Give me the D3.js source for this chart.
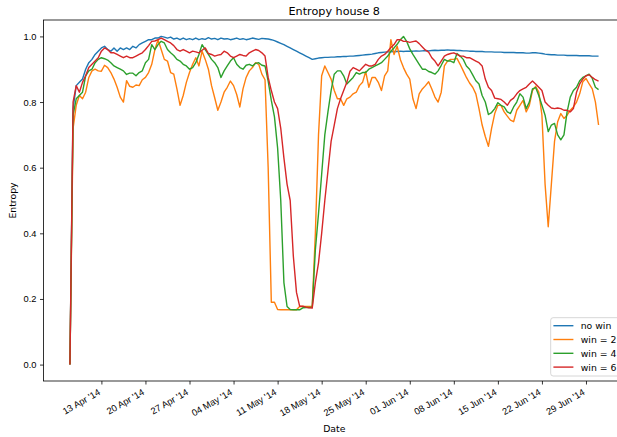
<!DOCTYPE html>
<html>
<head>
<meta charset="utf-8">
<script src="https://cdn.jsdelivr.net/npm/d3@7"></script>
<style>
  body { margin: 0; background: #fff; }
  svg { display: block; font-family: "DejaVu Sans", sans-serif; }
</style>
</head>
<body>
<div id="chart"></div>
<script>
// Half-daily samples starting 8 Apr 2014
const startDate = Date.UTC(2014, 3, 8);
const stepHours = 12;

const seriesNames = ["no win", "win = 2", "win = 4", "win = 6"];
const seriesColors = ["#1f77b4", "#ff7f0e", "#2ca02c", "#d62728"];

const noWin = [
  0, 0.78, 0.85, 0.86, 0.87, 0.90, 0.92, 0.93, 0.945, 0.955,
  0.965, 0.97, 0.96, 0.955, 0.965, 0.955, 0.965, 0.96, 0.965, 0.96,
  0.97, 0.965, 0.975, 0.98, 0.985, 0.99, 0.99, 0.995, 0.995, 1.0,
  0.998, 0.995, 0.998, 0.992, 0.995, 0.99, 0.995, 0.99, 0.993, 0.99,
  0.995, 0.99, 0.993, 0.991, 0.996, 0.992, 0.994, 0.99, 0.995, 0.992,
  0.993, 0.99, 0.992, 0.995, 0.991, 0.993, 0.99, 0.992, 0.995, 0.993,
  0.991, 0.994, 0.993, 0.992, 0.99, 0.987, 0.983, 0.979, 0.975, 0.97,
  0.965, 0.96, 0.955, 0.95, 0.945, 0.94, 0.935, 0.93, 0.932, 0.934,
  0.935, 0.936, 0.936, 0.937, 0.937, 0.938, 0.938, 0.939, 0.939, 0.94,
  0.94, 0.941, 0.942, 0.943, 0.944, 0.945, 0.946, 0.948, 0.95, 0.951,
  0.952, 0.953, 0.953, 0.954, 0.954, 0.955, 0.954, 0.955, 0.955, 0.955,
  0.956, 0.955, 0.956, 0.957, 0.956, 0.957, 0.958, 0.957, 0.958, 0.958,
  0.959, 0.958, 0.958, 0.957, 0.957, 0.956, 0.956, 0.955, 0.955, 0.954,
  0.954, 0.954, 0.953, 0.953, 0.953, 0.952, 0.952, 0.952, 0.951, 0.951,
  0.951, 0.951, 0.950, 0.950, 0.950, 0.949, 0.949, 0.950, 0.950, 0.949,
  0.948, 0.946, 0.945, 0.944, 0.944, 0.943, 0.943, 0.943, 0.942, 0.942,
  0.942, 0.942, 0.941, 0.941, 0.941, 0.941, 0.940, 0.940, 0.940,
];

const win2 = [
  0, 0.72, 0.79, 0.82, 0.81, 0.83, 0.875, 0.895, 0.90, 0.895,
  0.894, 0.912, 0.905, 0.89, 0.87, 0.845, 0.815, 0.80, 0.865, 0.848,
  0.845, 0.852, 0.85, 0.868, 0.875, 0.89, 0.915, 0.96, 0.99, 0.96,
  0.93, 0.925, 0.89, 0.885, 0.84, 0.79, 0.82, 0.86, 0.89, 0.915,
  0.935, 0.91, 0.955, 0.93, 0.90, 0.85, 0.813, 0.775, 0.80, 0.83,
  0.845, 0.864, 0.85, 0.823, 0.785, 0.84, 0.875, 0.895, 0.905, 0.92,
  0.915, 0.885, 0.868, 0.60, 0.19, 0.19, 0.168, 0.167, 0.167, 0.167,
  0.167, 0.167, 0.167, 0.177, 0.177, 0.177, 0.177, 0.177, 0.40, 0.70,
  0.88, 0.91, 0.89, 0.87, 0.835, 0.81, 0.81, 0.79, 0.81, 0.815,
  0.825, 0.83, 0.85, 0.86, 0.893, 0.845, 0.875, 0.875, 0.86, 0.835,
  0.88, 0.895, 0.99, 0.945, 0.97, 0.93, 0.905, 0.885, 0.87, 0.81,
  0.78, 0.825, 0.84, 0.85, 0.862, 0.84, 0.815, 0.80, 0.83, 0.91,
  0.925, 0.93, 0.93, 0.933, 0.915, 0.895, 0.875, 0.858, 0.845, 0.825,
  0.78, 0.73, 0.695, 0.665, 0.72, 0.765, 0.79, 0.79, 0.77, 0.757,
  0.745, 0.74, 0.775, 0.79, 0.805, 0.77, 0.79, 0.835, 0.848, 0.83,
  0.76, 0.55, 0.42, 0.55, 0.68, 0.74, 0.765, 0.75, 0.76, 0.775,
  0.785, 0.80, 0.825, 0.862, 0.872, 0.855, 0.84, 0.80, 0.73,
];

const win4 = [
  0, 0.76, 0.81, 0.82, 0.83, 0.88, 0.895, 0.90, 0.92, 0.93,
  0.935, 0.932, 0.928, 0.92, 0.91, 0.905, 0.90, 0.895, 0.884, 0.888,
  0.888, 0.88, 0.89, 0.895, 0.92, 0.93, 0.975, 0.96, 0.975, 0.985,
  0.98, 0.96, 0.95, 0.942, 0.93, 0.925, 0.915, 0.91, 0.90, 0.905,
  0.92, 0.945, 0.975, 0.96, 0.945, 0.93, 0.92, 0.905, 0.875, 0.895,
  0.91, 0.925, 0.935, 0.915, 0.905, 0.90, 0.912, 0.915, 0.91, 0.918,
  0.92, 0.912, 0.91, 0.864, 0.805, 0.755, 0.66, 0.50, 0.25, 0.177,
  0.168, 0.167, 0.167, 0.167, 0.173, 0.174, 0.174, 0.175, 0.35, 0.46,
  0.58, 0.70, 0.77, 0.835, 0.885, 0.895, 0.895, 0.88, 0.855, 0.865,
  0.875, 0.89, 0.885, 0.89, 0.89, 0.90, 0.905, 0.91, 0.915, 0.92,
  0.93, 0.94, 0.955, 0.965, 0.976, 0.99, 1.0, 0.985, 0.962, 0.945,
  0.93, 0.915, 0.90, 0.90, 0.893, 0.89, 0.885, 0.895, 0.912, 0.93,
  0.925, 0.925, 0.92, 0.948, 0.94, 0.93, 0.91, 0.90, 0.883, 0.865,
  0.855, 0.82, 0.80, 0.762, 0.768, 0.78, 0.798, 0.79, 0.785, 0.77,
  0.765, 0.785, 0.80, 0.825, 0.815, 0.78, 0.80, 0.84, 0.844, 0.82,
  0.79, 0.76, 0.71, 0.73, 0.735, 0.70, 0.685, 0.70, 0.77, 0.815,
  0.835, 0.845, 0.865, 0.875, 0.88, 0.885, 0.872, 0.845, 0.838,
];

const win6 = [
  0, 0.80, 0.85, 0.83, 0.86, 0.88, 0.905, 0.915, 0.925, 0.935,
  0.955, 0.965, 0.96, 0.95, 0.95, 0.945, 0.94, 0.935, 0.94, 0.935,
  0.935, 0.94, 0.945, 0.95, 0.96, 0.972, 0.985, 0.986, 0.99, 0.995,
  0.99, 0.985, 0.98, 0.972, 0.96, 0.955, 0.96, 0.955, 0.95, 0.955,
  0.953, 0.95, 0.958, 0.965, 0.948, 0.945, 0.94, 0.943, 0.945, 0.955,
  0.95, 0.94, 0.935, 0.94, 0.945, 0.942, 0.94, 0.95, 0.955, 0.96,
  0.957, 0.95, 0.94, 0.875, 0.835, 0.80, 0.78, 0.72, 0.63, 0.55,
  0.50, 0.33, 0.22, 0.178, 0.178, 0.175, 0.173, 0.172, 0.25, 0.31,
  0.40, 0.50, 0.59, 0.68, 0.73, 0.78, 0.81, 0.835, 0.86, 0.894,
  0.905, 0.90, 0.895, 0.905, 0.915, 0.91, 0.91, 0.915, 0.93, 0.94,
  0.945, 0.955, 0.966, 0.975, 0.99, 0.99, 0.985, 0.985, 0.982, 0.984,
  0.986, 0.978, 0.968, 0.958, 0.952, 0.935, 0.925, 0.91, 0.925, 0.94,
  0.945, 0.948, 0.95, 0.945, 0.94, 0.94, 0.935, 0.935, 0.93, 0.925,
  0.92, 0.91, 0.87, 0.845, 0.835, 0.812, 0.81, 0.808, 0.80, 0.79,
  0.805, 0.812, 0.825, 0.835, 0.84, 0.845, 0.855, 0.864, 0.855, 0.845,
  0.835, 0.80, 0.79, 0.782, 0.78, 0.782, 0.78, 0.775, 0.775, 0.77,
  0.78, 0.83, 0.855, 0.87, 0.88, 0.883, 0.875, 0.868, 0.864,
];

const xTickDates = [
  "2014-04-13", "2014-04-20", "2014-04-27", "2014-05-04", "2014-05-11", "2014-05-18",
  "2014-05-25", "2014-06-01", "2014-06-08", "2014-06-15", "2014-06-22", "2014-06-29",
];
const yTicks = [0, 0.2, 0.4, 0.6, 0.8, 1.0];

const width = 617;
const height = 437;
const margin = { top: 20, right: 625, bottom: 381, left: 43.5 };

const toDate = (i) => new Date(startDate + i * stepHours * 3600 * 1000);
const allSeries = [noWin, win2, win4, win6].map((vals, k) => ({
  name: seriesNames[k],
  color: seriesColors[k],
  points: vals.map((v, i) => ({ date: toDate(i), value: v })),
}));

// matplotlib style 5% padding around data
const [d0, d1] = d3.extent(allSeries[0].points, (d) => d.date);
const pad = (d1 - d0) * 0.05;
const xScale = d3
  .scaleUtc()
  .domain([new Date(+d0 - pad), new Date(+d1 + pad)])
  .range([margin.left, margin.right]);
const yScale = d3.scaleLinear().domain([-0.05, 1.05]).range([margin.bottom, margin.top]);

const svg = d3
  .select("#chart")
  .append("svg")
  .attr("width", width)
  .attr("height", height);

svg.append("rect").attr("width", width).attr("height", height).attr("fill", "#fff");

// Lines
const line = d3
  .line()
  .x((d) => xScale(d.date))
  .y((d) => yScale(d.value));

svg
  .append("g")
  .selectAll("path")
  .data(allSeries)
  .enter()
  .append("path")
  .attr("d", (d) => line(d.points))
  .attr("fill", "none")
  .attr("stroke", (d) => d.color)
  .attr("stroke-width", 1.4)
  .attr("stroke-linejoin", "round");

// Axes
const xAxis = svg
  .append("g")
  .attr("transform", `translate(0,${margin.bottom})`)
  .call(
    d3
      .axisBottom(xScale)
      .tickValues(xTickDates.map((s) => new Date(s + "T00:00:00Z")))
      .tickFormat(d3.utcFormat("%d %b '%y"))
      .tickSizeInner(3.5)
      .tickSizeOuter(0)
  );
xAxis
  .selectAll("text")
  .attr("y", 0)
  .attr("dy", 0)
  .attr("transform", "translate(-1,13) rotate(-30)")
  .style("text-anchor", "end");

const yAxis = svg
  .append("g")
  .attr("transform", `translate(${margin.left},0)`)
  .call(
    d3
      .axisLeft(yScale)
      .tickValues(yTicks)
      .tickFormat(d3.format(".1f"))
      .tickSizeInner(3.5)
      .tickPadding(3.5)
      .tickSizeOuter(0)
  );

[xAxis, yAxis].forEach((ax) => {
  ax.select(".domain").remove();
  ax.selectAll("line").attr("stroke", "#000").attr("stroke-width", 0.8);
  ax.selectAll("text").attr("fill", "#000").style("font-size", "9.3px");
});

// Spines
svg
  .append("rect")
  .attr("x", margin.left)
  .attr("y", margin.top)
  .attr("width", margin.right - margin.left)
  .attr("height", margin.bottom - margin.top)
  .attr("fill", "none")
  .attr("stroke", "#000")
  .attr("stroke-width", 0.8);

// Labels
svg
  .append("text")
  .attr("x", (margin.left + margin.right) / 2)
  .attr("y", 15)
  .attr("text-anchor", "middle")
  .style("font-size", "11.2px")
  .text("Entropy house 8");

svg
  .append("text")
  .attr("x", (margin.left + margin.right) / 2)
  .attr("y", 432)
  .attr("text-anchor", "middle")
  .style("font-size", "9.3px")
  .text("Date");

svg
  .append("text")
  .attr("transform", `translate(15.5,${(margin.top + margin.bottom) / 2}) rotate(-90)`)
  .attr("text-anchor", "middle")
  .style("font-size", "9.3px")
  .text("Entropy");

// Legend
const legend = svg.append("g").attr("transform", "translate(550.7,317.7)");
legend
  .append("rect")
  .attr("width", 72)
  .attr("height", 58.3)
  .attr("rx", 2.5)
  .attr("fill", "#fff")
  .attr("fill-opacity", 0.8)
  .attr("stroke", "#ccc")
  .attr("stroke-width", 0.8);

const items = legend
  .selectAll("g.item")
  .data(allSeries)
  .enter()
  .append("g")
  .attr("class", "item")
  .attr("transform", (_, i) => `translate(0,${8 + i * 13.8})`);

items
  .append("line")
  .attr("x1", 2.7)
  .attr("x2", 22.7)
  .attr("stroke", (d) => d.color)
  .attr("stroke-width", 1.4);

items
  .append("text")
  .attr("x", 30)
  .attr("y", 3.4)
  .style("font-size", "9.3px")
  .text((d) => d.name);
</script>
</body>
</html>
